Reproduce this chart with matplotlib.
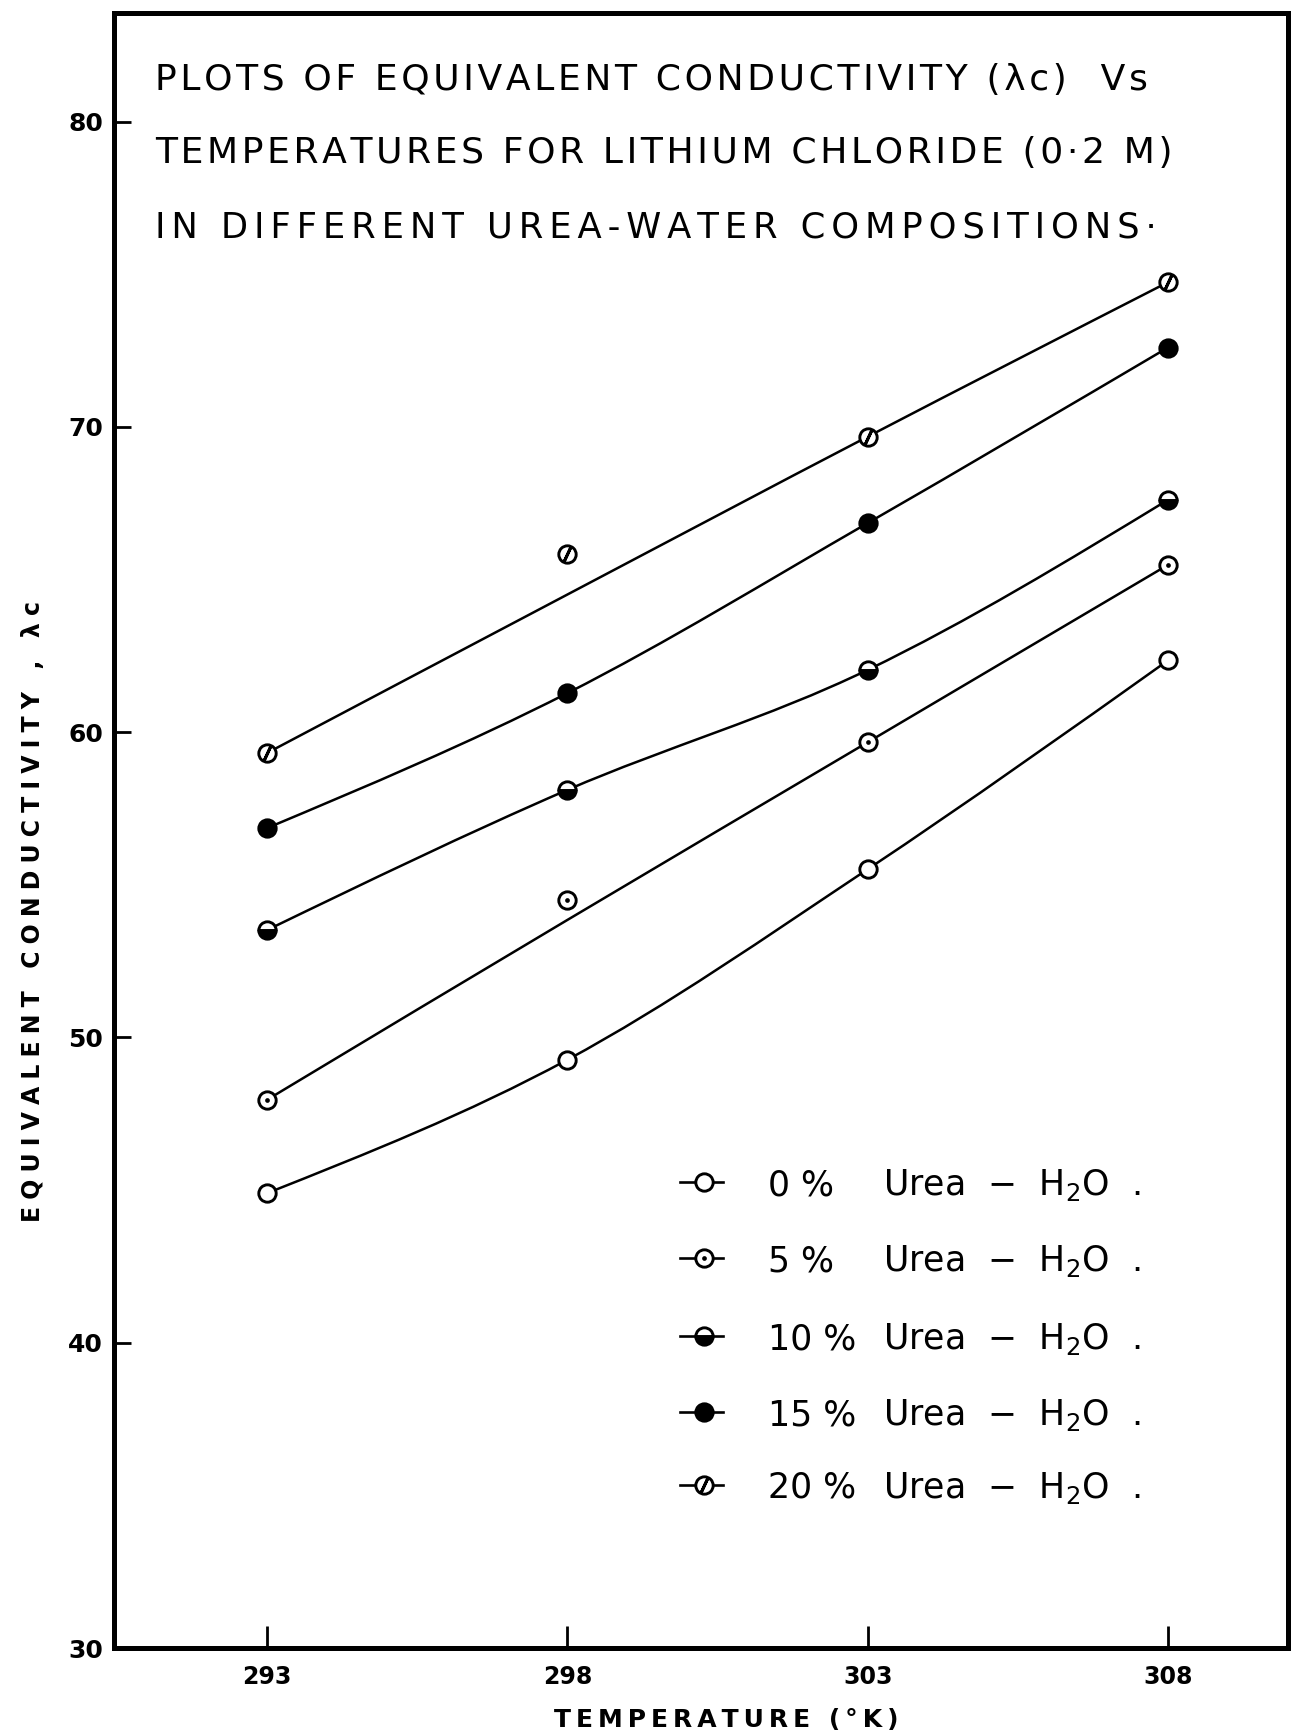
import numpy as np
import matplotlib
matplotlib.use('Agg')
import matplotlib.pyplot as plt
from matplotlib.path import Path
from matplotlib.patches import PathPatch
from matplotlib.lines import Line2D

plt.rcParams['font.family'] = ['DejaVu Sans']

# equivalent conductivity of LiCl (0.2 M) in urea-water mixtures
temps = [293, 298, 303, 308]
urea_pct = [0, 5, 10, 15, 20]

cond_0 = [44.90, 49.27, 55.51, 62.35]
cond_5 = [47.96, 54.51, 59.67, 65.48]
cond_10 = [53.52, 58.11, 62.04, 67.61]
cond_15 = [56.86, 61.28, 66.85, 72.60]
cond_20 = [59.32, 65.83, 69.68, 74.74]

# hand drawn smooth curves (they miss the 298 K points for 5 % and 20 %)
curve_0 = cond_0
curve_5 = [47.96, 53.85, 59.67, 65.48]
curve_10 = cond_10
curve_15 = cond_15
curve_20 = [59.32, 64.51, 69.68, 74.74]

x_ticks = [293, 298, 303, 308]
y_ticks = [30, 40, 50, 60, 70, 80]

W, H = 1311, 1736
MS = 12.5
MEW = 2.1

HAIR = '\u200a'
SIXTH = '\u2006'
THIN = '\u2009'


def fx(px):
    return px / W


def fy(py):
    return 1 - py / H


def spaced(s, gap=THIN):
    return gap.join(s)


def smooth_path(xs, ys):
    pts = np.column_stack([xs, ys]).astype(float)
    n = len(pts)
    tang = np.empty_like(pts)
    tang[1:-1] = (pts[2:] - pts[:-2]) / 2
    tang[0] = (3 * (pts[1] - pts[0]) - tang[1]) / 2
    tang[-1] = (3 * (pts[-1] - pts[-2]) - tang[-2]) / 2
    verts = [pts[0]]
    codes = [Path.MOVETO]
    for i in range(n - 1):
        verts += [pts[i] + tang[i] / 3, pts[i + 1] - tang[i + 1] / 3, pts[i + 1]]
        codes += [Path.CURVE4] * 3
    return Path(verts, codes)


def marker_layers(kind):
    base = dict(ls='none', marker='o', ms=MS, mew=MEW, mec='k', mfc='w')
    if kind == 'open':
        return [base]
    if kind == 'dot':
        return [base, dict(ls='none', marker='o', ms=3.4, mew=0, mfc='k')]
    if kind == 'half':
        return [dict(base, fillstyle='bottom', mfc='k', mfcalt='w')]
    if kind == 'solid':
        return [dict(base, mfc='k')]
    if kind == 'slash':
        return [base, dict(ls='none', marker=(2, 2, -25), ms=MS - 1.5, mew=MEW, mec='k')]
    return [base]


series = [
    (cond_0, curve_0, 'open'),
    (cond_5, curve_5, 'dot'),
    (cond_10, curve_10, 'half'),
    (cond_15, curve_15, 'solid'),
    (cond_20, curve_20, 'slash'),
]

fig = plt.figure(figsize=(W / 100, H / 100), dpi=100)
ax = fig.add_axes([fx(114), fy(1648), fx(1288) - fx(114), fy(13) - fy(1648)])
ax.set_xlim(290.45, 310.0)
ax.set_ylim(30, 83.56)

for vals, curve, kind in series:
    ax.add_patch(PathPatch(smooth_path(temps, curve), fill=False, lw=1.8,
                           ec='k', transform=ax.transData, zorder=2))
    for kw in marker_layers(kind):
        ax.plot(temps, vals, zorder=4, **kw)

for sp in ax.spines.values():
    sp.set_linewidth(3.6)

ax.set_xticks(x_ticks)
ax.set_yticks(y_ticks)
ax.tick_params(axis='x', direction='in', length=16, width=2, pad=12,
               labelsize=17)
ax.tick_params(axis='y', direction='in', length=12, width=2, pad=8,
               labelsize=18)
for lab in ax.get_xticklabels() + ax.get_yticklabels():
    lab.set_fontweight('bold')

# title block inside the frame
title_lines = [
    ('PLOTS OF EQUIVALENT CONDUCTIVITY (λc)  Vs', 80, 26, HAIR),
    ('TEMPERATURES FOR LITHIUM CHLORIDE (0·2 M)', 153, 26, HAIR),
    ('IN DIFFERENT UREA-WATER COMPOSITIONS·', 227, 25.5, SIXTH),
]
for line, py, size, gap in title_lines:
    fig.text(fx(155), fy(py), spaced(line, gap), fontsize=size,
             ha='left', va='center')

fig.text(fx(33), fy(911), spaced('EQUIVALENT CONDUCTIVITY , λc', THIN + HAIR),
         rotation=90, fontsize=17, ha='center', va='center', fontweight='bold')
fig.text(fx(726), fy(1720), spaced('TEMPERATURE (°K)'),
         fontsize=18, ha='center', va='center', fontweight='bold')

# legend drawn by hand
rows_y = [1182, 1258, 1336, 1412, 1485]
for (vals, curve, kind), pct, py in zip(series, urea_pct, rows_y):
    fig.add_artist(Line2D([fx(680), fx(723)], [fy(py), fy(py)],
                          transform=fig.transFigure, color='k', lw=1.9, zorder=3))
    for kw in marker_layers(kind):
        fig.add_artist(Line2D([fx(704)], [fy(py)], transform=fig.transFigure,
                              zorder=4, **kw))
    fig.text(fx(768), fy(py + 13), f'{pct} %', fontsize=25, ha='left',
             va='baseline')
    fig.text(fx(883), fy(py + 13), r'Urea  $-$  H$_2$O  .', fontsize=25,
             ha='left', va='baseline')

fig.savefig('out.png', dpi=100)
